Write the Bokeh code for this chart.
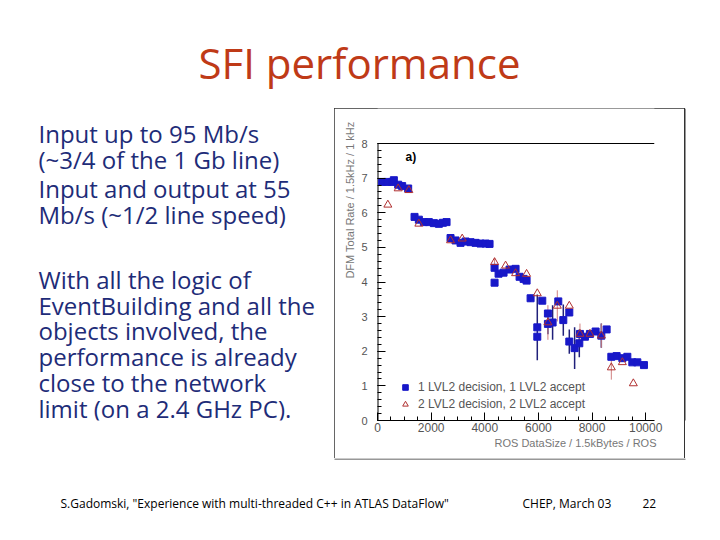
import numpy as np
from bokeh.plotting import figure
from bokeh.models import Range1d, FixedTicker, Label, Legend, LegendItem, Title
from bokeh.layouts import column, row
from bokeh.embed import file_html
from bokeh.resources import INLINE
from bokeh.core.properties import value

# ---------------- slide texts ----------------
title_text = "SFI performance"
bullet_lines = ["Input up to 95 Mb/s", "(~3/4 of the 1 Gb line)",
                "Input and output at 55", "Mb/s (~1/2 line speed)"]
para_lines = ["With all the logic of", "EventBuilding and all the",
              "objects involved, the", "performance is already",
              "close to the network", "limit (on a 2.4 GHz PC)."]
footer_texts = ['S.Gadomski, "Experience with multi-threaded C++ in ATLAS DataFlow"',
                "CHEP, March 03", "22"]

# ---------------- chart data ----------------
x_ticks = [0, 2000, 4000, 6000, 8000, 10000]
y_ticks = [0, 1, 2, 3, 4, 5, 6, 7, 8]
x_label = "ROS DataSize / 1.5kBytes / ROS"
y_label = "DFM Total Rate / 1.5kHz / 1 kHz"
legend1 = "1 LVL2 decision, 1 LVL2 accept"
legend2 = "2 LVL2 decision, 2 LVL2 accept"
panel_tag = "a)"
x_max = 10330
y_top = 8

x1 = [174, 361, 547, 610, 771, 920, 1144,
      1381, 1542, 1729, 1915, 2102, 2289, 2438, 2575,
      2724, 2910, 3097, 3284, 3470, 3657, 3843, 4030, 4179,
      4366, 4366, 4515, 4701, 4925, 5149, 5299, 5448, 5560,
      5709, 5959, 5959, 6145, 6355, 6355, 6530, 6742, 6929, 7153, 7153,
      7351, 7526, 7550, 7736, 7922, 8134, 8347, 8545,
      8720, 8918, 9131, 9317, 9503, 9690, 9937]
y1 = [6.89, 6.89, 6.89, 6.94, 6.81, 6.77, 6.70,
      5.88, 5.80, 5.73, 5.73, 5.70, 5.68, 5.71, 5.73,
      5.27, 5.20, 5.13, 5.17, 5.15, 5.13, 5.11, 5.11, 5.10,
      4.41, 3.98, 4.24, 4.27, 4.36, 4.38, 4.15, 4.09, 4.04,
      3.53, 2.69, 2.42, 3.46, 3.09, 2.79, 2.83, 3.44, 2.90, 3.12, 2.28,
      2.09, 2.23, 2.50, 2.42, 2.50, 2.57, 2.45, 2.63,
      1.84, 1.86, 1.80, 1.84, 1.68, 1.68, 1.60]
e1 = [0, 0, 0, 0, 0, 0, 0,
      0, 0, 0, 0, 0, 0, 0, 0,
      0, 0, 0, 0, 0, 0, 0, 0, 0,
      0, 0, 0, 0, 0, 0, 0, 0.08, 0.08,
      0.1, 0.95, 0, 0, 0, 0.3, 0.5, 0, 0.45, 0, 0.35,
      0.6, 0.4, 0, 0, 0, 0, 0.35, 0,
      0, 0, 0, 0.08, 0, 0, 0]

x2 = [386, 771, 1169, 1542, 2724, 3159, 4366, 4776, 5149, 5560,
      5959, 6355, 6705, 7153, 7550, 7922, 8347, 8720, 9131, 9541]
y2 = [6.23, 6.70, 6.65, 5.68, 5.20, 5.25, 4.57, 4.47, 4.25, 4.23,
      3.67, 2.83, 3.31, 3.31, 2.50, 2.50, 2.45, 1.53, 1.68, 1.07]
e2 = [0, 0, 0, 0, 0, 0, 0.12, 0, 0, 0,
      0, 0.5, 0.45, 0, 0.3, 0, 0.35, 0.35, 0, 0]

BLUE = "#1818C8"
RED = "#B03030"
TEXT_BLUE = "#1E2C78"
TITLE_RED = "#BF3A17"
BOX = "#333333"
SLIDE_FONT = "Open Sans"
CHART_FONT = "Liberation Sans"

ROW_H = 350
CHART_W = 350
LEFT_W = 334
CHART_BOTTOM = 38   # border below the chart frame (x axis panel)


def text_fig(w, h, bottom=0):
    f = figure(width=w, height=h, x_range=Range1d(0, w), y_range=Range1d(h - bottom, 0),
               x_axis_type=None, y_axis_type=None, output_backend="svg",
               toolbar_location=None, min_border=0, min_border_bottom=bottom)
    f.grid.visible = False
    f.outline_line_color = None
    f.background_fill_alpha = 0
    f.border_fill_alpha = 0
    return f


# ---- title strip ----
top = text_fig(704, 108)
top.text(x=[359], y=[62], text=[title_text], text_font=value(SLIDE_FONT),
         text_font_size="42px", text_color=TITLE_RED, text_align="center",
         text_baseline="middle")

# ---- left text block (frame aligned with chart frame) ----
left = text_fig(LEFT_W, ROW_H, bottom=CHART_BOTTOM)
b_mid = [25, 51, 80, 106]
p_mid = [171, 197, 222, 248, 274, 300]
left.text(x=[38] * len(bullet_lines), y=b_mid, text=bullet_lines,
          text_font=value(SLIDE_FONT), text_font_size="24px", text_color=TEXT_BLUE,
          text_align="left", text_baseline="middle")
left.text(x=[38] * len(para_lines), y=p_mid, text=para_lines,
          text_font=value(SLIDE_FONT), text_font_size="24px", text_color=TEXT_BLUE,
          text_align="left", text_baseline="middle")

# ---- chart ----
y_max = y_top * (ROW_H - CHART_BOTTOM) / 277.0
chart = figure(width=CHART_W, height=ROW_H, x_range=Range1d(0, x_max), y_range=Range1d(0, y_max),
               output_backend="svg", toolbar_location=None,
               min_border_left=43, min_border_right=30, min_border_top=0,
               min_border_bottom=CHART_BOTTOM)
chart.styles = {"outline": "1px solid " + BOX, "outline-offset": "-1px"}
chart.grid.visible = False
chart.outline_line_color = None
chart.background_fill_color = "white"
chart.border_fill_color = "white"

xa = chart.xaxis[0]
xa.ticker = FixedTicker(ticks=x_ticks, minor_ticks=list(range(0, x_max + 1, 500)))
ya = chart.yaxis[0]
ya.ticker = FixedTicker(ticks=y_ticks, minor_ticks=[v / 5 for v in range(0, 41)])
for ax in (xa, ya):
    ax.major_tick_in = 8
    ax.major_tick_out = 0
    ax.minor_tick_in = 4
    ax.minor_tick_out = 0
    ax.major_tick_line_color = "black"
    ax.minor_tick_line_color = "black"
    ax.major_label_text_font = CHART_FONT
    ax.major_label_text_color = "#555555"
xa.axis_line_color = "black"
ya.axis_line_color = None
xa.major_label_text_font_size = "12px"
xa.major_label_standoff = 2
ya.major_label_text_font_size = "11px"
ya.major_label_standoff = 10

# axis titles, right-aligned like ROOT
chart.add_layout(Title(text=x_label, align="right", text_font=CHART_FONT,
                       text_font_size="11px", text_font_style="normal",
                       text_color="#777777", standoff=0, offset=-2), "below")
chart.add_layout(Title(text=y_label, align="right", text_font=CHART_FONT,
                       text_font_size="11px", text_font_style="normal",
                       text_color="#777777", standoff=6, offset=13), "left")

# frame lines of the ROOT pad: left axis line and top line
chart.segment(x0=[0, 0], y0=[0, y_top], x1=[0, x_max], y1=[y_top, y_top],
              line_color="black", line_width=[2, 1])

# error bars
x1a, y1a, e1a = np.array(x1), np.array(y1), np.array(e1)
m1 = e1a > 0
chart.segment(x0=x1a[m1], y0=(y1a - e1a)[m1], x1=x1a[m1], y1=(y1a + e1a)[m1],
              line_color="#20207A", line_width=1.5)
x2a, y2a, e2a = np.array(x2), np.array(y2), np.array(e2)
m2 = e2a > 0
chart.segment(x0=x2a[m2], y0=(y2a - e2a)[m2], x1=x2a[m2], y1=(y2a + e2a)[m2],
              line_color="#D08080", line_width=1)

r1 = chart.scatter(x1, y1, marker="square", size=7, fill_color=BLUE, line_color=BLUE)
r2 = chart.scatter(x2, y2, marker="triangle", size=8, line_color=RED,
                   fill_color=None, line_width=1)

legend = Legend(items=[LegendItem(label=legend1, renderers=[r1]),
                       LegendItem(label=legend2, renderers=[r2])],
                location=(18, 9), background_fill_alpha=0, border_line_color=None,
                label_text_font=CHART_FONT, label_text_font_size="12px",
                label_text_color="#555555", glyph_width=20, glyph_height=14,
                label_height=14, spacing=3, padding=0, margin=0, label_standoff=3)
chart.add_layout(legend)

chart.add_layout(Label(x=1045, y=7.6, text=panel_tag, text_font=CHART_FONT,
                       text_font_size="12px", text_font_style="bold",
                       text_color="black", text_baseline="middle"))

# right spacer carries the right edge of the chart box
right = text_fig(20, ROW_H, bottom=CHART_BOTTOM)
right.styles = {"box-shadow": "inset 1px 0 0 0 " + BOX}
right.segment(x0=[0.5], y0=[0], x1=[0.5], y1=[ROW_H], line_color=BOX, line_width=1)

# ---- footer (also carries the bottom edge of the chart box) ----
bottom = text_fig(704, 66)
bottom.segment(x0=[LEFT_W], y0=[0.5], x1=[LEFT_W + CHART_W + 1], y1=[0.5],
               line_color=BOX, line_width=1)
bottom.text(x=[60, 522, 642], y=[45, 45, 45], text=footer_texts,
            text_font=value(SLIDE_FONT), text_font_size="12px", text_color="black",
            text_align="left", text_baseline="middle")

page = column(top, row(left, chart, right, spacing=0), bottom, spacing=0)

open("out.html", "w").write(file_html(page, INLINE))
